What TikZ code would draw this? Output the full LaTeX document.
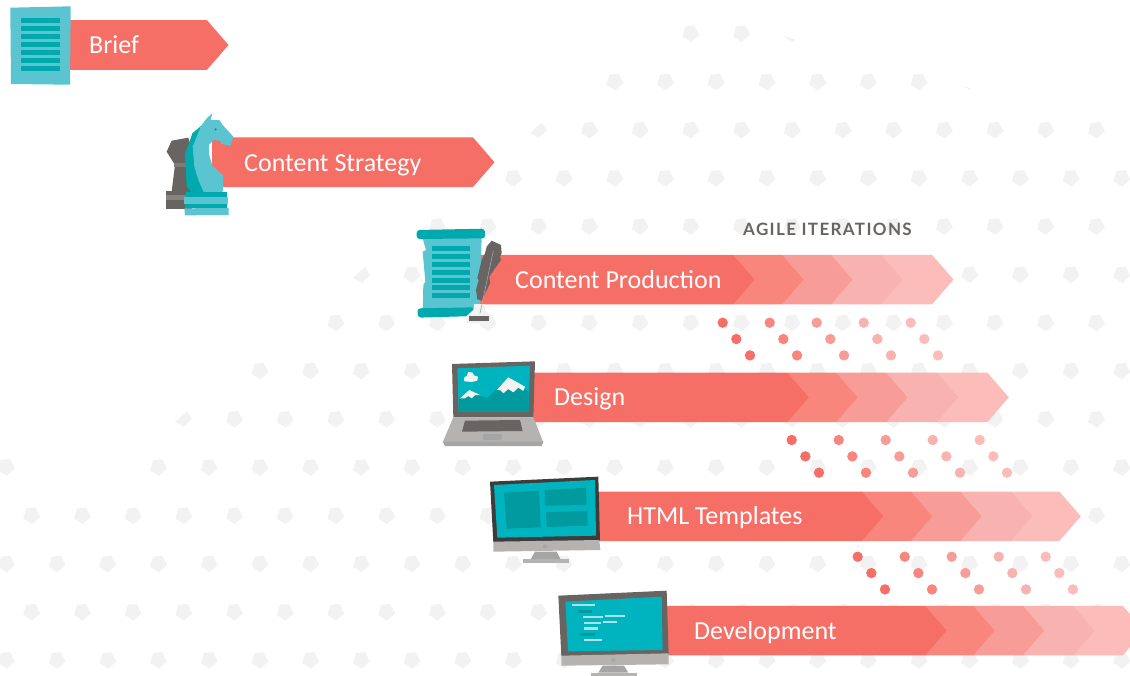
\documentclass[tikz,border=0pt]{standalone}
\usepackage{fontspec}
\setmainfont{Carlito}
\newfontfamily\agilefont[LetterSpace=8]{Lato}
\definecolor{coralA}{HTML}{F56F66}
\definecolor{coralB}{HTML}{F8867C}
\definecolor{coralC}{HTML}{F79C96}
\definecolor{coralD}{HTML}{F8B2AF}
\definecolor{coralE}{HTML}{FBBCBA}
\definecolor{spotgrey}{HTML}{F2F2F2}
\definecolor{tealpale}{HTML}{5BC4D1}
\definecolor{tealdark}{HTML}{00A9AD}
\definecolor{tealscreen}{HTML}{00B4BF}
\definecolor{tealshade}{HTML}{009A9F}
\definecolor{slate}{HTML}{686461}
\definecolor{silver}{HTML}{B5B3B1}
\definecolor{silverdark}{HTML}{A5A5A5}
\tikzset{
  steplabel/.style={anchor=base west, inner sep=0, text=white, font=\fontsize{26}{26}\selectfont},
  sheetline/.style={fill=tealdark},
}
\begin{document}
\begin{tikzpicture}[x=1pt,y=-1pt]
\useasboundingbox (0,0) rectangle (1130,675);
\clip (0,0) rectangle (1130,675);
% background spots
\foreach \row/\first/\last in {0/13/14,1/12/18,2/11/21,3/10/22,4/8/21,5/8/22,6/6/21,7/5/22,8/4/21,9/3/22,10/0/21,11/0/22,12/0/21,13/0/22} {
  \pgfmathsetmacro\xo{isodd(\row) ? 6 : 31.3}
  \pgfmathsetmacro\yo{33.8+48.2*\row}
  \foreach \n in {\first,...,\last} {
    \fill[spotgrey,shift={({\xo+50.7*\n},\yo)}] (-5,-7.3)--(4,-8.3)--(9,1)--(.7,8.3)--(-8,2.7)--cycle;
  }
}
\fill[spotgrey,shift={(6,467.4)}] (-5,-7.3)--(4,-8.3)--(9,1)--(.7,8.3)--(-8,2.7)--cycle;
\foreach \x/\y in {538/130,361/275,183/419} {
  \fill[spotgrey,shift={(\x,\y)}] (-8,2.7)--(4,-7.7)--(9,0)--(.7,8)--cycle;
}
\fill[spotgrey] (782.4,35.7)--(795.3,39.3)--(794,41.7)--(791.3,41.7)--cycle;
\fill[spotgrey] (962,85.7)--(970.9,88.3)--(970.4,90)--cycle;
% single arrows
\foreach \mid/\st/\hd in {45/70/207,162.2/212/473} {
  \fill[coralA] (\st,{\mid-24.8})--(\hd,{\mid-24.8})--({\hd+21.5},\mid)--(\hd,{\mid+24.8})--(\st,{\mid+24.8})--cycle;
}
% iteration arrows
\foreach \mid/\st/\ha/\hb/\hc/\hd/\he in {279.6/480/733/782/831/881/932,397.4/533/787.3/836/886/936.7/987.3,516.3/598/861.7/910.7/960/1010.7/1059.3,630.6/665/925/973/1022.7/1073/1122.7} {
  \foreach \col/\sa/\hh in {coralE/\hd/\he,coralD/\hc/\hd,coralC/\hb/\hc,coralB/\ha/\hb,coralA/\st/\ha} {
    \fill[\col] (\sa,{\mid-24.8})--(\hh,{\mid-24.8})--({\hh+21.5},\mid)--(\hh,{\mid+24.8})--(\sa,{\mid+24.8})--cycle;
  }
}
% dots
\foreach \gx/\gy in {722.7/322.7,791.7/440,857.7/556.7} {
  \foreach \col [count=\i from 0] in {coralA,coralB,coralC,coralD,coralE} {
    \foreach \j in {0,1,2} {
      \fill[\col] ({\gx+47*\i+13.65*\j},{\gy+16.35*\j}) circle (5.2);
    }
  }
}
% brief sheet
\fill[tealpale] (10.3,7.7)--(70.7,6.3)--(70,84.7)--(11,84)--cycle;
\foreach \y in {18,26,34,42,50,58,66} {
  \fill[sheetline] (21,\y) rectangle (60,\y+5);
}
% chess pieces
\begin{scope}[scale=1/3]
\fill[slate] (515,422)--(565,413)--(575,445)--(570,580)--(515,575)--(525,495)--(500,455)--cycle;
\fill[slate!85!white] (521,488)--(560,488)--(560,500)--(521,500)--cycle;
\fill[slate] (497,573)--(575,573)--(575,628)--(497,628)--cycle;
\fill[slate!80!white] (497,584)--(575,584)--(575,600)--(497,600)--cycle;
\fill[tealdark] (603,378)--(577,400)--(567,430)--(555,460)--(560,560)--(575,578)--(615,578)--(600,540)--(590,500)--(585,440)--cycle;
\fill[tealpale] (637,340)--(632,360)--(658,360)--(668,375)--(700,410)--(692,437)--(664,432)--(660,422)--(640,420)--(627,435)--(627,462)--(637,497)--(670,527)--(668,578)--(612,578)--(595,540)--(583,500)--(578,440)--(603,378)--(620,355)--cycle;
\fill[slate] (647,388) circle (3.5);
\fill[tealdark] (557,575)--(680,575)--(680,592)--(557,592)--cycle;
\fill[tealpale] (553,590)--(685,590)--(685,612)--(553,612)--cycle;
\fill[tealdark] (555,612)--(680,612)--(680,625)--(555,625)--cycle;
\fill[tealpale] (553,625)--(686,624)--(686,645)--(555,646)--cycle;
\end{scope}
% scroll and feather
\begin{scope}[shift={(400,210)},scale=1/3]
\fill[tealpale] (65,75)--(245,75)--(240,300)--(68,315)--(70,225)--(76,215)--(68,125)--(78,120)--cycle;
\fill[tealdark,rounded corners=3pt] (50,60)--(254,56)--(256,85)--(50,87)--cycle;
\fill[tealdark,rounded corners=3pt] (52,295)--(225,292)--(225,318)--(54,323)--cycle;
\foreach \y in {108,132,156,180,204,226,250} {
  \fill[sheetline] (96,\y) rectangle (210,\y+15);
}
\fill[spotgrey] (222,282)--(253,282)--(255,300)--(272,318)--(272,340)--(200,340)--(198,320)--(220,300)--cycle;
\fill[slate] (207,317) rectangle (266,333);
\fill[slate] (275,92)--(303,105)--(305,130)--(300,140)--(303,150)--(285,175)--(268,200)--(270,220)--(245,272)--(232,268)--(228,240)--(236,210)--(232,205)--(245,150)--(255,130)--(260,110)--cycle;
\draw[silverdark,line width=.6pt] (280,122)--(240,310);
\end{scope}
% laptop
\begin{scope}[shift={(400,210)},scale=1/3]
\fill[slate] (156,462)--(405,454)--(400,622)--(160,622)--cycle;
\fill[tealscreen] (172,475)--(390,467)--(385,605)--(176,605)--cycle;
\fill[tealshade] (178,565)--(205,545)--(262,565)--(322,505)--(386,545)--(385,605)--(176,605)--cycle;
\fill[spotgrey] (290,540)--(325,502)--(375,530)--(370,543)--(355,533)--(340,547)--(325,537)--(310,550)--(300,540)--cycle;
\fill[spotgrey] (180,565)--(208,540)--(240,555)--(225,555)--(215,565)--(205,558)--(195,565)--cycle;
\fill[spotgrey] (193,514)--(192,503)--(200,498)--(205,486)--(218,488)--(222,496)--(234,500)--(232,512)--(215,516)--cycle;
\fill[silver] (160,622)--(400,622)--(430,697)--(128,697)--cycle;
\fill[silverdark] (128,695)--(430,695)--(425,708)--(135,708)--cycle;
\fill[slate] (195,632)--(360,630)--(368,663)--(186,665)--cycle;
\fill[silverdark] (250,672)--(305,672)--(305,690)--(248,690)--cycle;
\end{scope}
% template monitor
\begin{scope}[shift={(480,470)},scale=1/3]
\fill[slate!60!black] (30,35)--(355,20)--(360,212)--(40,217)--cycle;
\fill[tealscreen] (42,45)--(345,30)--(348,197)--(52,203)--cycle;
\fill[tealshade] (72,68)--(177,62)--(182,172)--(80,176)--cycle;
\fill[tealshade] (194,60)--(318,53)--(320,105)--(195,107)--cycle;
\fill[tealshade] (198,127)--(322,122)--(323,167)--(200,171)--cycle;
\fill[silver] (40,215)--(358,210)--(361,240)--(40,245)--cycle;
\fill[silverdark] (195,229) circle (6);
\fill[silverdark] (165,245)--(230,245)--(242,268)--(152,268)--cycle;
\fill[silver] (128,268) rectangle (266,280);
\end{scope}
% code monitor
\begin{scope}[shift={(480,470)},scale=1/3]
\fill[slate] (235,377)--(560,362)--(566,552)--(244,559)--cycle;
\fill[tealscreen] (256,395)--(545,380)--(548,540)--(264,544)--cycle;
\fill[silver] (244,557)--(566,550)--(566,583)--(244,587)--cycle;
\fill[silverdark] (400,570) circle (6);
\fill[silverdark] (368,587)--(432,587)--(445,608)--(355,608)--cycle;
\fill[silver] (333,608) rectangle (470,622);
\foreach \xa/\ya/\xb/\yb in {276/402/346/409,310/437/368/445,376/434/435/442,312/455/362/463,368/453/412/460,312/472/354/480,312/506/365/513} {
  \fill[tealpale!50!white] (\xa,\ya) rectangle (\xb,\yb);
}
\foreach \xa/\ya/\xb/\yb in {294/420/336/428,300/488/344/497} {
  \fill[tealshade] (\xa,\ya) rectangle (\xb,\yb);
}
\end{scope}
% labels
\node[steplabel] (brief) at (89,53.5) {Brief};
\node[steplabel] (strategy) at (244,171) {Content Strategy};
\node[steplabel] (production) at (515,288) {Content Production};
\node[steplabel] (design) at (554,405.5) {Design};
\node[steplabel] (templates) at (627,524) {HTML Templates};
\node[steplabel] (development) at (694,639) {Development};
\node[anchor=base west, inner sep=0, text=slate, font=\fontsize{17}{17}\selectfont\agilefont\bfseries] (agile) at (743,235) {AGILE ITERATIONS};
\end{tikzpicture}
\end{document}
